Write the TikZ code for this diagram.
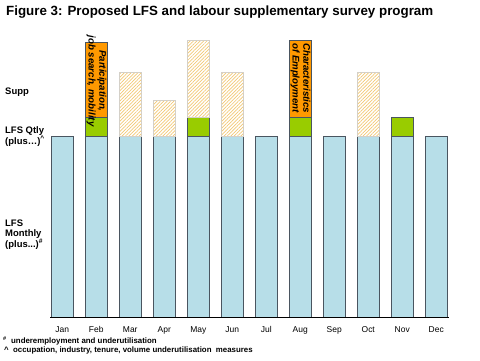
\documentclass[tikz,border=0pt]{standalone}
\usepackage{fontspec}
\setmainfont{Liberation Sans}
\usetikzlibrary{patterns.meta}
\definecolor{lfsblue}{HTML}{B7DEE8}
\definecolor{qgreen}{HTML}{99CC00}
\definecolor{sorange}{HTML}{FF9900}
\definecolor{hatchcol}{HTML}{F2C874}
\definecolor{hatchborder}{HTML}{D4D0C8}
\definecolor{barborder}{HTML}{4A5560}
\tikzset{
  bar/.style={draw=barborder, line width=0.9bp},
  hatchbar/.style={draw=hatchborder, line width=0.8bp,
    pattern={Lines[angle=45,distance=2.4bp,line width=0.7bp]}, pattern color=hatchcol},
  month/.style={font=\fontsize{8.5}{10}\selectfont, inner sep=0pt, anchor=base},
  sidelab/.style={font=\bfseries\fontsize{9.5}{11}\selectfont, anchor=west, align=left, inner sep=0pt},
  rotlab/.style={font=\bfseries\itshape\fontsize{9.7}{11}\selectfont, rotate=-90, inner sep=0pt},
  foot/.style={font=\bfseries\fontsize{7.9}{9}\selectfont, anchor=west, inner sep=0pt},
}
\begin{document}
\begin{tikzpicture}[x=1bp,y=-1bp]
\useasboundingbox (0,0) rectangle (480,360);
\node[anchor=west, inner sep=0pt, font=\bfseries\fontsize{13.4}{15}\selectfont] (title) at (6,12)
  {Figure 3: Proposed LFS and labour supplementary survey program};
% blue monthly bars
\foreach \m [count=\i from 0] in {Jan,Feb,Mar,Apr,May,Jun,Jul,Aug,Sep,Oct,Nov,Dec} {
  \pgfmathsetmacro\xl{51+34*\i}
  \draw[bar, fill=lfsblue] (\xl,136) rectangle ++(22.5,181.5);
  \node[month] (m\i) at (\xl+11.25,332.5) {\m};
}
% quarterly green bars
\foreach \i in {1,4,7,10} {
  \pgfmathsetmacro\xl{51+34*\i}
  \draw[bar, fill=qgreen] (\xl,117) rectangle ++(22.5,19);
}
% supplementary orange bars
\draw[bar, fill=sorange] (85,42) rectangle (107.5,117);
\draw[bar, fill=sorange] (289,40) rectangle (311.5,117);
% hatched (planned) bars
\draw[hatchbar] (119,72) rectangle (141.5,136);
\draw[hatchbar] (153,100) rectangle (175.5,136);
\draw[hatchbar] (187,40) rectangle (209.5,117);
\draw[hatchbar] (221,72) rectangle (243.5,136);
\draw[hatchbar] (357,72) rectangle (379.5,136);
% baseline
\coordinate (b0) at (50,317.5);
\coordinate (b1) at (449,317.5);
\draw[line width=1bp] (b0) -- (b1);
% rotated labels
\node[rotlab, align=center] (feblab) at (96.5,81) {Participation,\\job search, mobility};
\node[rotlab, align=left, anchor=west] (auglab) at (300.5,43) {Characteristics\\of Employment};
% side labels
\node[sidelab] (supp) at (5,92) {Supp};
\node[sidelab] (qtly) at (5,136.5) {LFS Qtly\\(plus\ldots)\textsuperscript{\textasciicircum}};
\node[sidelab, font=\bfseries\fontsize{9.5}{9.7}\selectfont] (mthly) at (5,234.5) {LFS\\Monthly\\(plus...)\textsuperscript{\#}};
% footnotes
\node[foot] (f1) at (3,341) {\textsuperscript{\#}\ \ underemployment and underutilisation};
\node[foot] (f2) at (4,350) {\textasciicircum\ \ occupation, industry, tenure, volume underutilisation\ \ measures};
\end{tikzpicture}
\end{document}
